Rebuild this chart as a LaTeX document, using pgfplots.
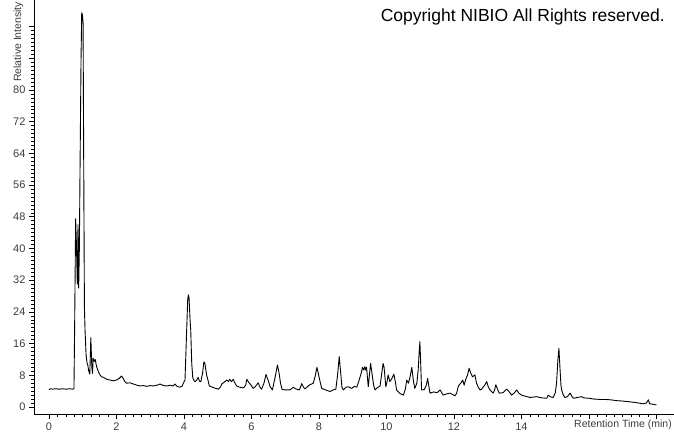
\documentclass[border=0pt]{standalone}
\usepackage{fontspec}
\setmainfont{Liberation Sans}
\usepackage{pgfplots}
\pgfplotsset{compat=1.18}
\definecolor{lab}{RGB}{60,60,60}
\pgfplotstableread{
x y
0.00 4.4
0.05 4.6
0.10 4.5
0.20 4.6
0.30 4.5
0.40 4.6
0.50 4.5
0.60 4.6
0.70 4.5
0.74 4.6
0.76 20
0.79 47.5
0.81 42
0.84 31
0.86 46
0.87 38
0.88 30
0.90 40
0.92 60
0.95 88
0.97 99.5
0.99 99
1.01 97
1.03 60
1.05 25
1.07 19
1.10 13
1.13 11
1.15 10.6
1.18 9
1.21 8.3
1.24 17.5
1.27 10
1.29 8.5
1.31 12.3
1.34 11.5
1.37 12
1.41 10.2
1.46 9
1.51 8.1
1.56 7.6
1.61 7.5
1.71 7.0
1.81 6.8
1.90 6.6
2.00 6.8
2.08 7.2
2.15 7.8
2.20 7.2
2.25 6.4
2.30 6.0
2.40 6.1
2.50 5.8
2.60 5.5
2.70 5.3
2.80 5.4
2.90 5.2
3.00 5.4
3.09 5.3
3.20 5.5
3.29 5.8
3.40 5.4
3.49 5.3
3.60 5.5
3.68 5.3
3.73 5.8
3.80 5.2
3.88 5.0
3.95 5.3
3.98 6.0
4.03 6.8
4.08 19.4
4.11 27
4.13 28.3
4.15 27.5
4.18 22
4.20 19.4
4.23 11
4.26 7.4
4.30 6.6
4.33 6.4
4.38 6.8
4.42 7.5
4.46 6.5
4.50 6.4
4.55 8.5
4.59 11.4
4.62 11.0
4.67 8.1
4.72 6.5
4.75 5.3
4.82 5.1
4.90 4.8
5.02 4.5
5.08 5.0
5.12 5.8
5.20 6.3
5.27 6.8
5.32 6.4
5.35 7.0
5.41 6.4
5.46 7.0
5.50 6.2
5.56 5.3
5.65 5.0
5.76 4.8
5.83 5.5
5.86 7.0
5.92 6.2
5.98 5.6
6.05 4.7
6.10 5.0
6.20 6.1
6.25 5.0
6.30 4.5
6.37 6.0
6.43 8.2
6.50 6.6
6.55 5.2
6.62 4.3
6.70 7.5
6.77 10.6
6.82 8.5
6.86 6.0
6.91 4.4
7.00 4.3
7.14 4.3
7.24 5.0
7.30 4.6
7.42 4.3
7.49 5.9
7.54 5.0
7.59 4.6
7.68 5.3
7.73 5.6
7.83 6.0
7.88 7.5
7.94 10.0
7.98 8.5
8.03 6.5
8.08 4.7
8.20 4.3
8.33 3.9
8.42 4.3
8.50 4.5
8.55 8.0
8.60 12.7
8.64 9
8.68 5.0
8.72 4.3
8.80 5.0
8.87 5.1
8.97 4.7
9.05 5.2
9.12 5.0
9.19 6.8
9.25 8.5
9.29 10.0
9.33 9.3
9.36 10.2
9.39 9.3
9.41 10.0
9.46 5.1
9.50 8.5
9.53 11.0
9.57 8.5
9.62 5.5
9.66 4.3
9.72 4.8
9.81 5.3
9.86 8.5
9.90 11.0
9.93 10
9.98 5.1
10.02 6.5
10.05 8.1
10.10 6.4
10.15 7.0
10.22 8.3
10.27 6.0
10.30 4.3
10.40 3.4
10.50 3.0
10.56 4.5
10.60 6.8
10.65 6.0
10.70 7.6
10.75 10.0
10.80 6.5
10.84 4.7
10.90 6.0
10.94 9.3
10.97 14
10.99 16.5
11.01 12
11.04 4.3
11.12 4.4
11.18 5.5
11.22 7.2
11.26 5.0
11.29 3.5
11.40 3.8
11.50 3.6
11.59 4.3
11.68 3.0
11.78 3.3
11.88 3.5
11.95 3.2
12.03 2.8
12.08 3.5
12.13 5.3
12.20 6.0
12.26 6.8
12.30 5.5
12.35 7.0
12.40 8.0
12.45 9.8
12.50 8.5
12.55 7.6
12.62 8.1
12.67 6.0
12.72 5.0
12.77 4.3
12.82 4.5
12.87 5.1
12.92 5.6
12.97 6.4
13.02 5.0
13.07 4.3
13.16 3.5
13.20 4.2
13.24 5.6
13.29 4.5
13.34 3.5
13.45 3.6
13.56 4.5
13.62 4.0
13.71 3.0
13.78 3.5
13.86 4.3
13.92 3.5
14.00 3.0
14.12 2.7
14.25 2.4
14.35 2.5
14.45 2.6
14.60 2.3
14.75 2.2
14.79 3.0
14.85 2.6
14.94 2.4
15.00 3.5
15.04 6.0
15.08 12
15.11 14.8
15.14 10
15.17 5.5
15.19 4.3
15.24 3.0
15.29 2.4
15.36 2.6
15.44 3.5
15.50 2.6
15.54 2.2
15.65 2.4
15.72 2.5
15.78 2.6
15.85 2.3
16.00 2.2
16.15 2.0
16.33 1.9
16.50 1.9
16.65 1.8
16.82 1.6
17.00 1.5
17.21 1.3
17.40 1.1
17.61 0.8
17.70 1.0
17.76 1.8
17.80 0.8
17.90 0.7
18.00 0.5
}\chrom
\begin{document}
\begin{tikzpicture}
\begin{axis}[
  at={(34pt,20pt)}, anchor=south west,
  scale only axis, width=640pt, height=414pt,
  xmin=-0.444, xmax=18.52, ymin=-1.77, ymax=102.7,
  axis x line*=bottom, axis y line*=left,
  axis line style={black, line width=0.8pt},
  tick align=outside,
  major tick length=5pt, minor tick length=2.5pt,
  tick style={black, line width=0.6pt},
  xtick={0,2,...,18},
  xticklabels={0,2,4,6,8,10,12,14,{},{}},
  ytick={0,8,...,96},
  yticklabels={0,8,16,24,32,40,48,56,64,72,80,{},{}},
  minor x tick num=7, minor y tick num=7,
  ticklabel style={font=\fontsize{11}{13}\selectfont, text=lab},
  /pgf/number format/assume math mode=true,
  clip=true,
]
\addplot[black, line width=0.9pt, line join=round] table[x=x,y=y] {\chrom};
\end{axis}
\node[rotate=90, anchor=west, inner sep=0pt, text=lab, font=\fontsize{10.5}{12}\selectfont] at (18.5pt,352pt) {Relative Intensity};
\node[anchor=base east, inner sep=0pt, font=\fontsize{17.5}{20}\selectfont] at (665pt,412pt) {Copyright NIBIO All Rights reserved.};
\node[anchor=base east, inner sep=0pt, text=lab, font=\fontsize{10.5}{12}\selectfont] at (672pt,6.7pt) {Retention Time (min)};
\pgfresetboundingbox
\path[use as bounding box] (0pt,0pt) rectangle (674pt,434pt);
\end{tikzpicture}
\end{document}
